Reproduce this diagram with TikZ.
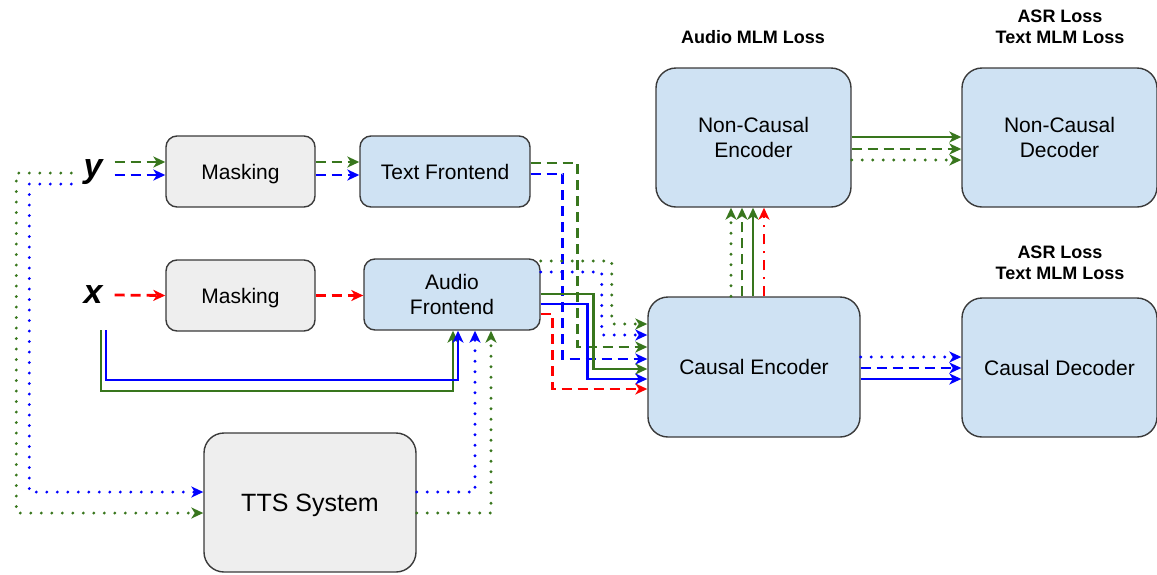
\documentclass[tikz,border=0pt]{standalone}
\usepackage{fontspec}
\setmainfont{Liberation Sans}
\usetikzlibrary{arrows.meta}

\definecolor{lossgreen}{HTML}{38761D}
\definecolor{lossblue}{HTML}{0000FF}
\definecolor{lossred}{HTML}{FF0000}
\definecolor{greyfill}{HTML}{EEEEEE}
\definecolor{bluefill}{HTML}{CFE2F3}
\definecolor{boxline}{HTML}{3A3A3A}

\begin{document}
\begin{tikzpicture}[
					x = 1pt, y = -1pt,
					greybox/.style = {
						shape = rectangle,
						draw = boxline,
						fill = greyfill,
						line width = 1.4pt,
						rounded corners = 11pt,
						inner sep = 0pt,
						text depth = 0pt,
						align = center,
						font = \fontsize{21}{25}\selectfont,
					},
					bluebox/.style = {greybox, fill = bluefill},
					bigbox/.style = {rounded corners = 20pt},
					losstext/.style = {align = center, inner sep = 0pt, font = \bfseries\fontsize{18}{21}\selectfont},
					varname/.style = {inner xsep = 12pt, inner ysep = 0pt, font = \bfseries\itshape\fontsize{34}{40}\selectfont},
					wire/.style = {line width = 2.8pt, -{Stealth[length = 12pt, width = 11pt, inset = 3.5pt]}},
					solidwire/.style = {wire},
					dashwire/.style = {wire, dash pattern = on 10pt off 6pt},
					dotwire/.style = {wire, line width = 3.2pt, line cap = round, dash pattern = on 0pt off 10.5pt},
					dashdotwire/.style = {wire, dash pattern = on 10pt off 7pt on 2pt off 7pt},
			]
				\useasboundingbox (0, 0) rectangle (1157, 574);

				% blocks
				\draw (93, 172) node (ylab) [varname] {y};
				\draw (93, 295) node (xlab) [varname] {x};
				\draw (240.5, 171.5) node (m1) [greybox, minimum width = 149pt, minimum height = 71pt] {Masking};
				\draw (445, 171.5) node (tf) [bluebox, minimum width = 170pt, minimum height = 71pt] {Text Frontend};
				\draw (240.5, 295.5) node (m2) [greybox, minimum width = 149pt, minimum height = 71pt] {Masking};
				\draw (452, 294.5) node (af) [bluebox, minimum width = 176pt, minimum height = 71pt] {Audio\\Frontend};
				\draw (310, 502.5) node (tts) [greybox, bigbox, minimum width = 212pt, minimum height = 139pt, font = \fontsize{25}{30}\selectfont] {TTS System};
				\draw (753.5, 137.5) node (nce) [bluebox, bigbox, minimum width = 195pt, minimum height = 139pt] {Non-Causal\\Encoder};
				\draw (1059.5, 137.5) node (ncd) [bluebox, bigbox, minimum width = 195pt, minimum height = 139pt] {Non-Causal\\Decoder};
				\draw (754, 367) node (ce) [bluebox, bigbox, minimum width = 212pt, minimum height = 140pt] {Causal Encoder};
				\draw (1059.5, 367.5) node (cd) [bluebox, bigbox, minimum width = 195pt, minimum height = 139pt] {Causal Decoder};

				\draw (753, 37) node (lossa) [losstext] {Audio MLM Loss};
				\draw (1060, 27) node (lossb) [losstext] {ASR Loss\\Text MLM Loss};
				\draw (1060, 263) node (lossc) [losstext] {ASR Loss\\Text MLM Loss};

				\coordinate (xg) at (101, 330);
				\coordinate (xb) at (106, 330);

				% text path
				\draw[dashwire, lossgreen] (ylab.east |- 0, 162) -- (m1.west |- 0, 162);
				\draw[dashwire, lossblue] (ylab.east |- 0, 175) -- (m1.west |- 0, 175);
				\draw[dashwire, lossgreen] (m1.east |- 0, 162) -- (tf.west |- 0, 162);
				\draw[dashwire, lossblue] (m1.east |- 0, 175) -- (tf.west |- 0, 175);
				\draw[dashwire, lossgreen] (tf.east |- 0, 163) -- ++(47, 0) |- (ce.west |- 0, 347);
				\draw[dashwire, lossblue] (tf.east |- 0, 174) -- ++(32, 0) |- (ce.west |- 0, 359);

				% audio path
				\draw[dashwire, lossred] (xlab.east) -- (m2.west);
				\draw[dashwire, lossred] (m2.east) -- (af.west |- 0, 295.5);
				\draw[dotwire, lossgreen] (af.east |- 0, 261) -- ++(71, 0) |- (ce.west |- 0, 324);
				\draw[dotwire, lossblue] (af.east |- 0, 272) -- ++(61, 0) |- (ce.west |- 0, 335);
				\draw[solidwire, lossgreen] (af.east |- 0, 294) -- ++(53, 0) |- (ce.west |- 0, 369);
				\draw[solidwire, lossblue] (af.east |- 0, 304) -- ++(47, 0) |- (ce.west |- 0, 379);
				\draw[dashwire, lossred] (af.east |- 0, 314) -- ++(12, 0) |- (ce.west |- 0, 389);

				% unmasked audio
				\draw[solidwire, lossgreen] (xg) -- ++(0, 61) -| (af.south -| 453, 0);
				\draw[solidwire, lossblue] (xb) -- ++(0, 50) -| (af.south -| 458, 0);

				% synthetic audio
				\draw[dotwire, lossgreen] (ylab.west |- 0, 173) -- ++(-55, 0) |- (tts.west |- 0, 513);
				\draw[dotwire, lossblue] (ylab.west |- 0, 184) -- ++(-42, 0) |- (tts.west |- 0, 492);
				\draw[dotwire, lossblue] (tts.east |- 0, 492) -| (af.south -| 475, 0);
				\draw[dotwire, lossgreen] (tts.east |- 0, 513) -| (af.south -| 491, 0);

				% encoders and decoders
				\draw[dotwire, lossgreen] (ce.north -| 731, 0) -- (nce.south -| 731, 0);
				\draw[dashwire, lossgreen] (ce.north -| 742, 0) -- (nce.south -| 742, 0);
				\draw[solidwire, lossgreen] (ce.north -| 753, 0) -- (nce.south -| 753, 0);
				\draw[dashdotwire, lossred] (ce.north -| 764, 0) -- (nce.south -| 764, 0);

				\draw[solidwire, lossgreen] (nce.east |- 0, 137) -- (ncd.west |- 0, 137);
				\draw[dashwire, lossgreen] (nce.east |- 0, 149) -- (ncd.west |- 0, 149);
				\draw[dotwire, lossgreen] (nce.east |- 0, 160) -- (ncd.west |- 0, 160);

				\draw[dotwire, lossblue] (ce.east |- 0, 357) -- (cd.west |- 0, 357);
				\draw[dashwire, lossblue] (ce.east |- 0, 368) -- (cd.west |- 0, 368);
				\draw[solidwire, lossblue] (ce.east |- 0, 379) -- (cd.west |- 0, 379);
			\end{tikzpicture}
\end{document}
